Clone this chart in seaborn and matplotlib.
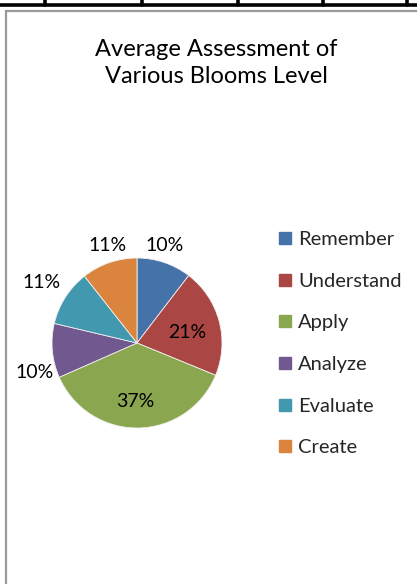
import matplotlib
matplotlib.use("Agg")
import matplotlib.pyplot as plt
from matplotlib.lines import Line2D
from matplotlib.patches import Rectangle
import seaborn as sns

sns.set_theme(style="white")
plt.rcParams['font.family'] = ['Lato', 'DejaVu Sans']

# data
levels = ['Remember', 'Understand', 'Apply', 'Analyze', 'Evaluate', 'Create']
shares = [10.4, 20.8, 37.2, 10.3, 10.7, 10.6]
colors = ['#4672AA', '#AA4644', '#8AA64F', '#71588F', '#4298AF', '#DB843D']

# label placement (in pie radius units), mimics Excel "best fit"
label_pos = [(0.33, 1.15), (0.59, 0.12), (-0.02, -0.69),
             (-1.20, -0.35), (-1.12, 0.71), (-0.35, 1.15)]

W, H = 417, 584
fig = plt.figure(figsize=(W / 100, H / 100), dpi=100)

# chart frame + table lines above it
fig.add_artist(Rectangle((6 / W, -0.05), 1.2, 1 - 10.5 / H + 0.05, transform=fig.transFigure,
                         fill=False, edgecolor='#9a9a9a', linewidth=1.6))
fig.add_artist(Line2D([0, 1], [1 - 4.5 / H] * 2, transform=fig.transFigure, color='black', linewidth=2.6))
for xt in [45, 142, 238, 323, 407]:
    fig.add_artist(Line2D([xt / W] * 2, [1 - 4.5 / H, 1], transform=fig.transFigure,
                          color='black', linewidth=2.6))

fig.text(216 / W, 1 - 63 / H, 'Average Assessment of\nVarious Blooms Level',
         ha='center', va='center', fontsize=17, color='black', linespacing=1.38)

# pie
cx, cy, r = 137, 343, 85
ax = fig.add_axes([(cx - r) / W, (H - cy - r) / H, 2 * r / W, 2 * r / H])
wedges, _, autotexts = ax.pie(shares, colors=colors, startangle=90, counterclock=False,
                              autopct='%.0f%%', wedgeprops=dict(linewidth=0.6, edgecolor='#f0f0f0'),
                              textprops=dict(fontsize=14, color='black'))
for t, (px, py) in zip(autotexts, label_pos):
    t.set_position((px, py))
    t.set_clip_on(False)
ax.set_xlim(-1, 1)
ax.set_ylim(-1, 1)
ax.set_aspect('equal')
ax.axis('off')

handles = [Line2D([], [], marker='s', linestyle='none', markersize=8,
                  markerfacecolor=c, markeredgecolor=c) for c in colors]
fig.legend(handles, levels, loc='upper left', bbox_to_anchor=(278 / W, 1 - 231 / H),
           frameon=False, fontsize=14.5, labelspacing=1.22, handlelength=0.7,
           handletextpad=0.3, borderpad=0, borderaxespad=0)

fig.savefig('out.png', dpi=100, facecolor='white')
